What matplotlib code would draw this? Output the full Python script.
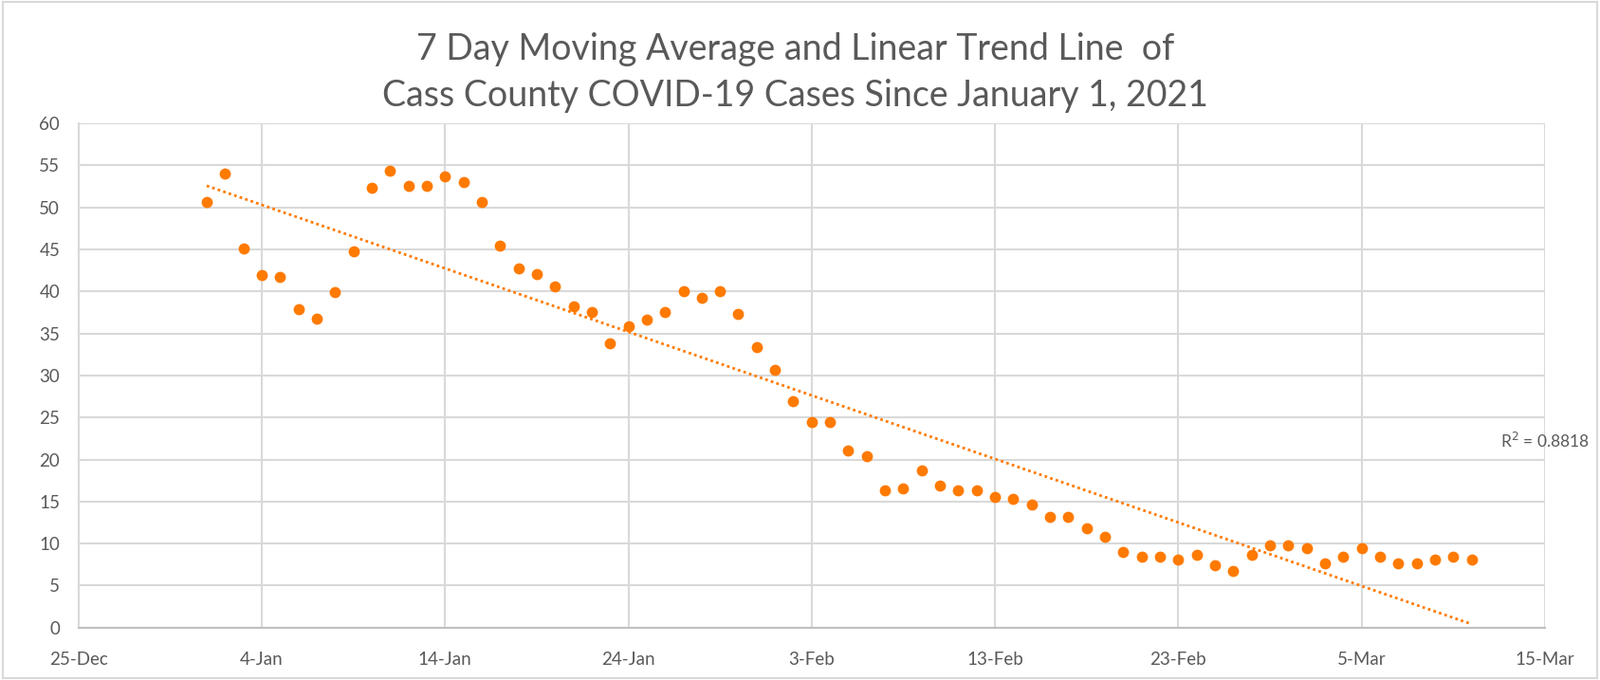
import numpy as np
import matplotlib
matplotlib.use("Agg")
import matplotlib.pyplot as plt
import matplotlib.dates as mdates
import datetime as dt

# ---- data ----
start_date = "2021-01-01"
values = [50.6, 54.0, 45.1, 42.0, 41.7, 37.9, 36.8, 39.9, 44.8, 52.3,
          54.4, 52.6, 52.6, 53.7, 53.0, 50.6, 45.5, 42.7, 42.1, 40.6,
          38.2, 37.6, 33.8, 35.9, 36.6, 37.6, 40.0, 39.2, 40.0, 37.3,
          33.4, 30.7, 26.9, 24.5, 24.5, 21.1, 20.4, 16.3, 16.6, 18.7,
          16.9, 16.3, 16.3, 15.6, 15.3, 14.6, 13.2, 13.2, 11.8, 10.8,
          9.0, 8.4, 8.4, 8.1, 8.7, 7.4, 6.7, 8.7, 9.8, 9.8,
          9.4, 7.7, 8.4, 9.4, 8.4, 7.7, 7.7, 8.1, 8.4, 8.1]
tick_dates = ["2020-12-25", "2021-01-04", "2021-01-14", "2021-01-24", "2021-02-03",
              "2021-02-13", "2021-02-23", "2021-03-05", "2021-03-15"]
tick_labels = ["25-Dec", "4-Jan", "14-Jan", "24-Jan", "3-Feb",
               "13-Feb", "23-Feb", "5-Mar", "15-Mar"]
y_ticks = [0, 5, 10, 15, 20, 25, 30, 35, 40, 45, 50, 55, 60]
r2_text = "R$^2$ = 0.8818"
title = "7 Day Moving Average and Linear Trend Line  of\nCass County COVID-19 Cases Since January 1, 2021"

# ---- build ----
d0 = dt.datetime.strptime(start_date, "%Y-%m-%d")
dates = [d0 + dt.timedelta(days=i) for i in range(len(values))]
xnum = mdates.date2num(dates)
coef = np.polyfit(xnum, values, 1)
trend = np.polyval(coef, xnum)

orange = "#FF7A00"
grid_c = "#D9D9D9"
text_c = "#595959"
plt.rcParams['font.family'] = ['Lato', 'DejaVu Sans']

fig = plt.figure(figsize=(16.87, 7.17), dpi=100)
ax = fig.add_axes([0.049, 0.077, 0.9166, 0.7417])

ax.plot(dates, trend, linestyle=(0, (1, 1.2)), color=orange, linewidth=2.0, zorder=2)
ax.plot(dates, values, linestyle='none', marker='o', markersize=8.5,
        color=orange, markeredgewidth=0, zorder=3)

tdates = [dt.datetime.strptime(s, "%Y-%m-%d") for s in tick_dates]
ax.set_xlim(tdates[0], tdates[-1])
ax.set_xticks(tdates)
ax.set_xticklabels(tick_labels)
ax.set_ylim(0, 60)
ax.set_yticks(y_ticks)
ax.set_yticklabels([str(v) for v in y_ticks])

ax.grid(True, color=grid_c, linewidth=1.5)
ax.set_axisbelow(True)
for s in ax.spines.values():
    s.set_visible(False)
ax.spines['left'].set_visible(True)
ax.spines['left'].set_color(grid_c)
ax.spines['left'].set_linewidth(1.5)
ax.spines['bottom'].set_visible(True)
ax.spines['bottom'].set_color('#BFBFBF')
ax.spines['bottom'].set_linewidth(1.5)
ax.tick_params(axis='both', length=0, labelsize=13.5, labelcolor=text_c)
ax.tick_params(axis='x', pad=18)
ax.tick_params(axis='y', pad=14)

ax.text(1.0, 22.2, r2_text, transform=ax.get_yaxis_transform(), ha='center', va='center',
        fontsize=12.5, color=text_c, clip_on=False)

fig.text(0.497, 0.893, title, ha='center', va='center', fontsize=27,
         color=text_c, linespacing=1.45)

fig.patches.append(plt.Rectangle((0.002, 0.003), 0.996, 0.994, transform=fig.transFigure,
                                 fill=False, edgecolor=grid_c, linewidth=1.5))

fig.savefig("out.png", dpi=100)
